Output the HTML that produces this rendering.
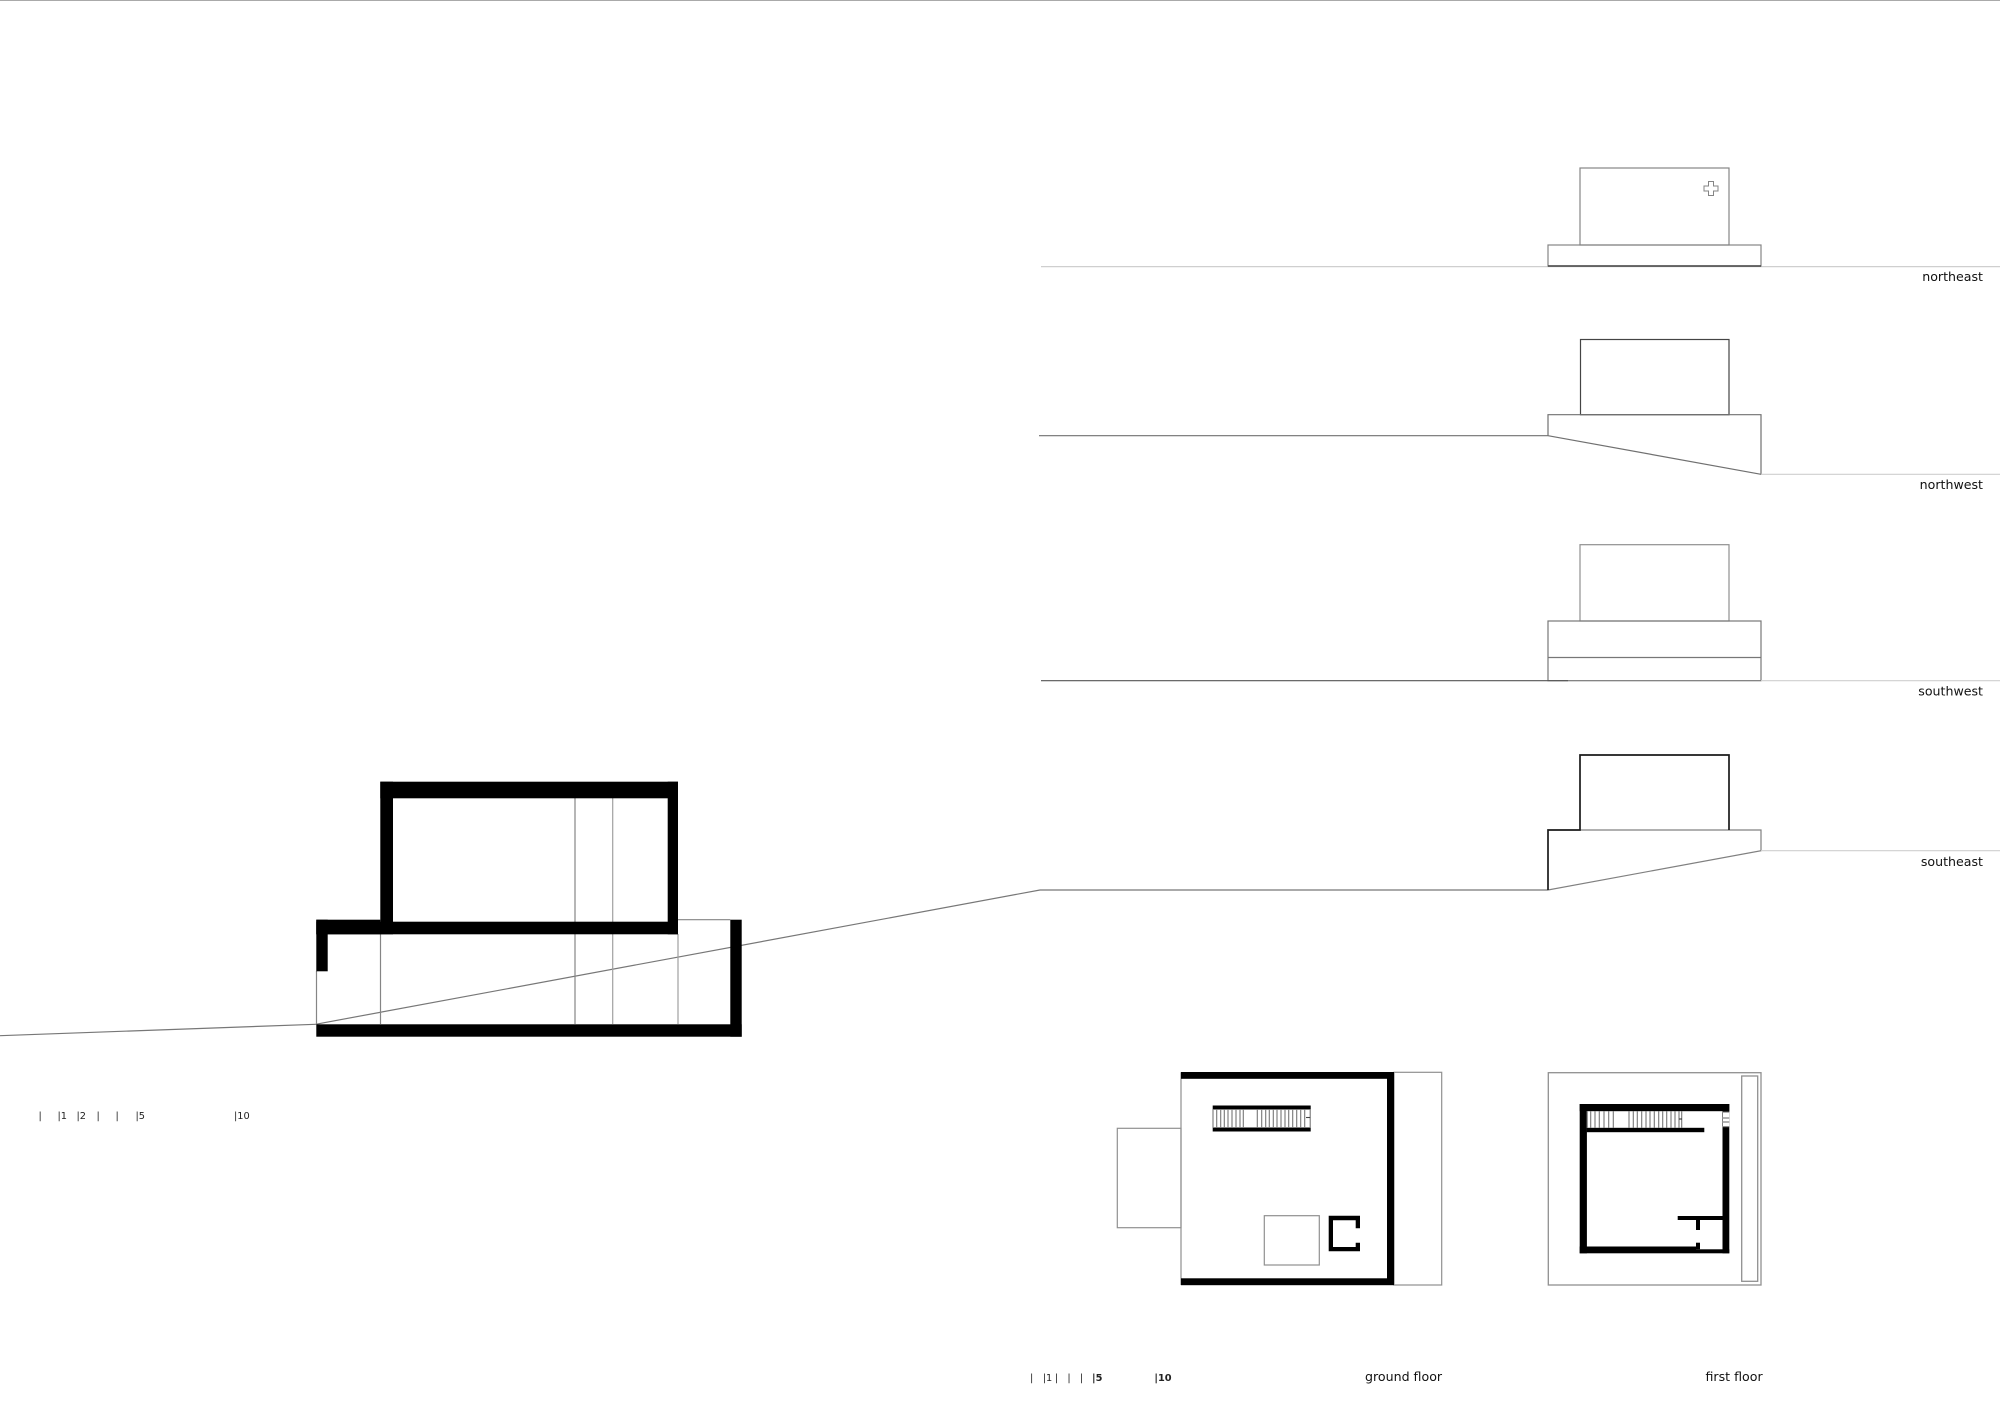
<!DOCTYPE html>
<html>
<head>
<meta charset="utf-8">
<style>
html,body{margin:0;padding:0;background:#fff;width:2000px;height:1407px;overflow:hidden}
svg{display:block}
text{font-family:"DejaVu Sans","Liberation Sans",sans-serif;fill:#111}
.l{font-size:12.6px}
.s{font-size:9.8px;fill:#222}
</style>
</head>
<body>
<svg width="2000" height="1407" viewBox="0 0 2000 1407" xmlns="http://www.w3.org/2000/svg">
<rect width="2000" height="1407" fill="#fff"/>
<line x1="0" y1="0.5" x2="2000" y2="0.5" stroke="#aaa" stroke-width="1"/>

<!-- northeast -->
<g fill="none" stroke="#858585" stroke-width="1.2">
<line x1="1041" y1="266.6" x2="2000" y2="266.6" stroke="#cfcfcf"/>
<rect x="1580" y="168" width="149" height="77"/>
<rect x="1548" y="245" width="213" height="21"/>
<line x1="1548" y1="266" x2="1761" y2="266" stroke="#444" stroke-width="1.4"/>
<path d="M1708.5 181.5h5v4.500h4.500v5h-4.500v4.500h-5v-4.500h-4.500v-5h4.500z" stroke-width="1"/>
</g>
<text class="l" x="1983" y="281" text-anchor="end">northeast</text>

<!-- northwest -->
<g fill="none" stroke="#707070" stroke-width="1.2">
<rect x="1580.500" y="339.500" width="148.500" height="75.200" stroke="#444"/>
<path d="M1039 435.700H1548V414.700H1761V474.300L1548 435.700"/>
<line x1="1761" y1="474.300" x2="2000" y2="474.300" stroke="#cfcfcf"/>
</g>
<text class="l" x="1983" y="489" text-anchor="end">northwest</text>

<!-- southwest -->
<g fill="none" stroke="#777" stroke-width="1.2">
<rect x="1580" y="544.700" width="149" height="76.300" stroke="#909090"/>
<rect x="1548" y="621" width="213" height="59.700"/>
<line x1="1548" y1="657.500" x2="1761" y2="657.500"/>
<line x1="1041" y1="680.700" x2="1568" y2="680.700" stroke="#555"/>
<line x1="1761" y1="680.700" x2="2000" y2="680.700" stroke="#cfcfcf"/>
</g>
<text class="l" x="1983" y="695.700" text-anchor="end">southwest</text>

<!-- southeast -->
<g fill="none" stroke-width="1.2">
<path d="M1548 890H1040L315.500 1024.300" stroke="#777"/>
<path d="M315.500 1024.300L0 1035.700" stroke="#777"/>
<path d="M1548 890L1761 850.700V830H1729" stroke="#808080"/>
<line x1="1580" y1="830" x2="1729" y2="830" stroke="#808080"/>
<line x1="1761" y1="850.700" x2="2000" y2="850.700" stroke="#cfcfcf"/>
<path d="M1548 890V830H1580V755H1729V830" stroke="#1a1a1a" stroke-width="1.700"/>
</g>
<text class="l" x="1983" y="866" text-anchor="end">southeast</text>

<!-- section thin lines -->
<g fill="none" stroke="#858585" stroke-width="1.2">
<line x1="316.500" y1="971" x2="316.500" y2="1024"/>
<line x1="380.500" y1="934" x2="380.500" y2="1024"/>
<line x1="575" y1="798" x2="575" y2="1024"/>
<line x1="612.700" y1="798" x2="612.700" y2="1024" stroke="#a0a0a0"/>
<line x1="678" y1="934" x2="678" y2="1024" stroke="#a0a0a0"/>
<line x1="678" y1="919.700" x2="730.300" y2="919.700"/>
</g>
<!-- section black -->
<g fill="#000">
<rect x="380.300" y="781.700" width="297.700" height="16.600"/>
<rect x="380.300" y="781.700" width="12.700" height="152.600"/>
<rect x="667.700" y="781.700" width="10.300" height="152.600"/>
<rect x="316.300" y="921.700" width="361.700" height="12.600"/>
<rect x="316.300" y="919.700" width="64" height="14.600"/>
<rect x="316.300" y="919.700" width="11.400" height="51.600"/>
<rect x="316.300" y="1024.300" width="425.400" height="12.400"/>
<rect x="730.300" y="919.700" width="11.400" height="117"/>
</g>

<!-- ground floor -->
<g fill="none" stroke="#909090" stroke-width="1.200">
<rect x="1117.300" y="1128.300" width="63.700" height="99.400"/>
<line x1="1181" y1="1072.300" x2="1181" y2="1285"/>
<rect x="1394" y="1072.300" width="47.700" height="212.700"/>
<rect x="1264.300" y="1215.700" width="55" height="49.300"/>
</g>
<g fill="#000">
<rect x="1181" y="1072" width="213" height="6.800"/>
<rect x="1387" y="1072" width="7" height="213"/>
<rect x="1181" y="1278.300" width="213" height="6.900"/>
<rect x="1212.700" y="1105.500" width="98" height="4"/>
<rect x="1212.700" y="1127.500" width="98" height="4"/>
<path fill-rule="evenodd" d="M1328.700 1215.700H1360V1228.300H1355.700V1220.200H1333V1247H1355.700V1242.700H1360V1251.300H1328.700Z"/>
</g>
<g stroke="#777" stroke-width="1.100">
<path d="M1213 1109V1128M1216.700 1109V1128M1220.700 1109V1128M1224.300 1109V1128M1228 1109V1128M1232 1109V1128M1236 1109V1128M1240 1109V1128M1243.300 1109V1128"/>
<path d="M1257.300 1109V1128M1261.700 1109V1128M1265.700 1109V1128M1269.300 1109V1128M1273.300 1109V1128M1277 1109V1128M1281 1109V1128M1285 1109V1128M1288.700 1109V1128M1292.700 1109V1128M1296.700 1109V1128M1300.700 1109V1128M1304.700 1109V1128M1310.200 1109V1128"/>
<path d="M1306 1117.500H1310.200" stroke="#444"/>
</g>

<!-- first floor -->
<g fill="none" stroke="#909090" stroke-width="1.300">
<rect x="1548.300" y="1072.700" width="212.700" height="212.300"/>
<rect x="1741.700" y="1076" width="16" height="205.300"/>
</g>
<g fill="#000">
<rect x="1579.700" y="1104" width="149.600" height="7.200"/>
<rect x="1579.700" y="1104" width="7.200" height="149.300"/>
<rect x="1722.500" y="1104" width="6.800" height="149.300"/>
<rect x="1579.700" y="1246.500" width="116.300" height="6.800"/>
<rect x="1696" y="1249.300" width="33.300" height="4"/>
<rect x="1586.700" y="1127.800" width="117.600" height="4.400"/>
<rect x="1677.700" y="1216" width="45" height="4"/>
<rect x="1696" y="1220" width="4" height="10"/>
<rect x="1696" y="1242.700" width="4" height="6.600"/>
</g>
<rect x="1723" y="1112" width="6.300" height="14.700" fill="#fff"/>
<g stroke="#666" stroke-width="1" fill="none">
<path d="M1722.700 1112H1729.300M1722.700 1118H1729.300M1722.700 1122H1729.300M1722.700 1126.700H1729.300"/>
</g>
<g stroke="#777" stroke-width="1.100">
<path d="M1587.200 1111V1128M1590.700 1111V1128M1595 1111V1128M1599.300 1111V1128M1604 1111V1128M1608.700 1111V1128M1613.300 1111V1128"/>
<path d="M1629 1111V1128M1633.300 1111V1128M1637.300 1111V1128M1641.700 1111V1128M1646 1111V1128M1650 1111V1128M1654.300 1111V1128M1658.700 1111V1128M1662.700 1111V1128M1666.700 1111V1128M1671 1111V1128M1675 1111V1128M1679 1111V1128M1681.700 1111V1128"/>
<path d="M1679 1119H1682" stroke="#333"/>
</g>

<!-- labels -->
<text class="l" x="1365" y="1381">ground floor</text>
<text class="l" x="1705.500" y="1381">first floor</text>

<!-- scale left -->
<g>
<text class="s" x="38.500" y="1119">|</text>
<text class="s" x="57.500" y="1119">|1</text>
<text class="s" x="76.500" y="1119">|2</text>
<text class="s" x="96.500" y="1119">|</text>
<text class="s" x="115.500" y="1119">|</text>
<text class="s" x="135.500" y="1119">|5</text>
<text class="s" x="234" y="1119">|10</text>
</g>
<!-- scale right -->
<g>
<text class="s" x="1030" y="1381">|</text>
<text class="s" x="1042.700" y="1381">|1</text>
<text class="s" x="1054.700" y="1381">|</text>
<text class="s" x="1067.400" y="1381">|</text>
<text class="s" x="1079.700" y="1381">|</text>
<text class="s" x="1092" y="1381" font-weight="bold">|5</text>
<text class="s" x="1154.400" y="1381" font-weight="bold">|10</text>
</g>
</svg>
</body>
</html>
